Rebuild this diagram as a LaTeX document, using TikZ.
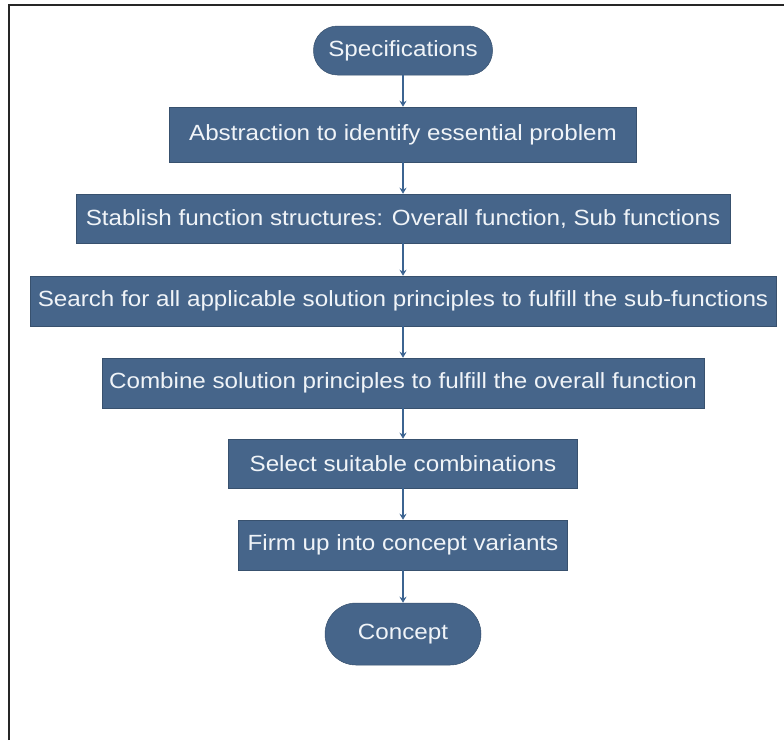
\documentclass[tikz,border=0pt]{standalone}
\usepackage{fontspec}
\setmainfont[FakeStretch=1.1]{Liberation Sans}
\usetikzlibrary{arrows.meta}
\definecolor{boxblue}{RGB}{70,101,138}
\definecolor{txtwhite}{RGB}{240,244,248}
\definecolor{arrowblue}{RGB}{60,100,145}
\tikzset{
  every node/.style={font=\fontsize{22}{25}\selectfont, text=txtwhite},
  procbox/.style={fill=boxblue, draw=boxblue!80!black, line width=0.5pt, inner sep=0pt},
  pill/.style={procbox, rounded corners=#1},
  flow/.style={draw=arrowblue, line width=1.2pt, -{Stealth[length=6pt,width=7pt]}},
  frame/.style={draw=black!85, line width=1.8pt}
}
\begin{document}
\begin{tikzpicture}[x=1pt,y=-1pt]
\useasboundingbox (0,0) rectangle (784,740);
\draw[frame] (9,740) -- (9,5) -- (784,5);
\node[pill=24pt, minimum width=179pt, minimum height=49pt] (spec) at (403,50.5) {Specifications};
\node[procbox, minimum width=467pt, minimum height=55pt] (abs) at (403,134.5) {Abstraction to identify essential problem};
\node[procbox, minimum width=654pt, minimum height=49pt] (stab) at (403,218.5) {Stablish function structures: Overall function, Sub functions};
\node[procbox, minimum width=746pt, minimum height=50pt] (search) at (403,301) {Search for all applicable solution principles to fulfill the sub-functions};
\node[procbox, minimum width=602pt, minimum height=50pt] (comb) at (403,383) {Combine solution principles to fulfill the overall function};
\node[procbox, minimum width=349pt, minimum height=49pt] (sel) at (403,463.5) {Select suitable combinations};
\node[procbox, minimum width=329pt, minimum height=50pt] (firm) at (403,545) {Firm up into concept variants};
\node[pill=31pt, minimum width=156pt, minimum height=62pt] (concept) at (403,634) {Concept};
\draw[flow] (spec) -- (abs);
\draw[flow] (abs) -- (stab);
\draw[flow] (stab) -- (search);
\draw[flow] (search) -- (comb);
\draw[flow] (comb) -- (sel);
\draw[flow] (sel) -- (firm);
\draw[flow] (firm) -- (concept);
\end{tikzpicture}
\end{document}
